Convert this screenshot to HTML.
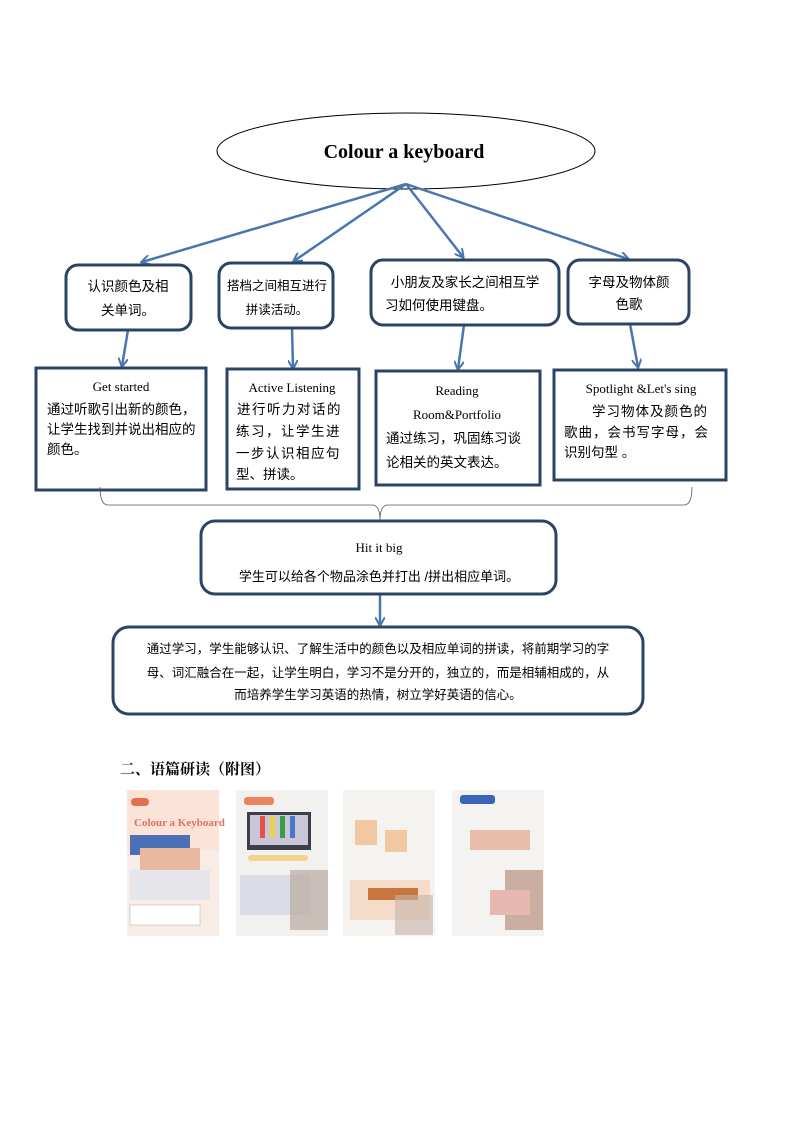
<!DOCTYPE html>
<html><head><meta charset="utf-8"><style>
body{margin:0;background:#fff;width:794px;height:1123px;overflow:hidden}
svg{display:block}
text{font-family:"Liberation Serif","Noto Sans CJK SC",serif;fill:#000}
.c{font-family:"Liberation Sans","Noto Sans CJK SC",sans-serif;font-size:13.5px}
</style></head><body>
<svg width="794" height="1123" viewBox="0 0 794 1123">
<defs><marker id="a" markerWidth="10" markerHeight="10" refX="8" refY="5" orient="auto" markerUnits="userSpaceOnUse"><path d="M0,0 L9,5 L0,10" fill="none" stroke="#4a76b0" stroke-width="2"/></marker></defs>
<ellipse cx="406" cy="151" rx="189" ry="38" fill="#fff" stroke="#000" stroke-width="1"/>
<text x="404" y="158" font-size="20" font-weight="bold" text-anchor="middle">Colour  a keyboard</text>
<g stroke="#4a76b0" stroke-width="2.5" fill="none" marker-end="url(#a)">
<line x1="406" y1="184" x2="142" y2="262"/>
<line x1="406" y1="184" x2="294" y2="261"/>
<line x1="406" y1="184" x2="463" y2="257"/>
<line x1="406" y1="184" x2="628" y2="259"/>
<line x1="128" y1="330" x2="122" y2="366"/>
<line x1="292" y1="328" x2="293" y2="368"/>
<line x1="464" y1="325" x2="458" y2="369"/>
<line x1="630" y1="324" x2="638" y2="367"/>
<line x1="380" y1="594" x2="380" y2="625"/>
</g>
<g stroke="#2b4466" stroke-width="3" fill="#fff">
<rect x="66" y="265" width="125" height="65" rx="12"/>
<rect x="219" y="263" width="114" height="65" rx="12"/>
<rect x="371" y="260" width="188" height="65" rx="12"/>
<rect x="568" y="260" width="121" height="64" rx="12"/>
<rect x="36" y="368" width="170" height="122"/>
<rect x="227" y="369" width="132" height="120"/>
<rect x="376" y="371" width="164" height="114"/>
<rect x="554" y="370" width="172" height="110"/>
<rect x="201" y="521" width="355" height="73" rx="14"/>
<rect x="113" y="627" width="530" height="87" rx="16"/>
</g>
<path d="M100,487 Q100,505 108,505 L372,505 Q380,505 380,520 Q380,505 388,505 L684,505 Q692,505 692,487" fill="none" stroke="#555" stroke-width="0.8"/>
<text x="128" y="291" text-anchor="middle" class="c">认识颜色及相</text>
<text x="128" y="315" text-anchor="middle" class="c">关单词。</text>
<text x="277" y="290" text-anchor="middle" class="c" style="font-size:12.5px">搭档之间相互进行</text>
<text x="277" y="314" text-anchor="middle" class="c" style="font-size:12.5px">拼读活动。</text>
<text x="465" y="287" text-anchor="middle" class="c">小朋友及家长之间相互学</text>
<text x="385" y="310" class="c">习如何使用键盘。</text>
<text x="629" y="287" text-anchor="middle" class="c">字母及物体颜</text>
<text x="629" y="309" text-anchor="middle" class="c">色歌</text>
<text x="121" y="391" font-size="13" text-anchor="middle">Get started</text>
<text x="47" y="414" class="c">通过听歌引出新的颜色，</text>
<text x="47" y="434" class="c">让学生找到并说出相应的</text>
<text x="47" y="454" class="c">颜色。</text>
<text x="292" y="392" font-size="13" text-anchor="middle">Active Listening</text>
<text x="237" y="414" class="c" letter-spacing="1.5"> 进行听力对话的</text>
<text x="236" y="436" class="c" letter-spacing="1.5">练习，让学生进</text>
<text x="236" y="458" class="c" letter-spacing="1.5">一步认识相应句</text>
<text x="236" y="479" class="c">型、拼读。</text>
<text x="457" y="395" font-size="13" text-anchor="middle">Reading</text>
<text x="457" y="419" font-size="13" text-anchor="middle">Room&amp;Portfolio</text>
<text x="386" y="443" class="c">通过练习，巩固练习谈</text>
<text x="386" y="467" class="c">论相关的英文表达。</text>
<text x="641" y="393" font-size="13" text-anchor="middle">Spotlight  &amp;Let's sing</text>
<text x="592" y="416" class="c" letter-spacing="1">学习物体及颜色的</text>
<text x="564" y="437" class="c" letter-spacing="1">歌曲，会书写字母，会</text>
<text x="564" y="457" class="c">识别句型 。</text>
<text x="379" y="552" font-size="13" text-anchor="middle">Hit it big</text>
<text x="379" y="581" text-anchor="middle" class="c" style="font-size:13px">学生可以给各个物品涂色并打出 /拼出相应单词。</text>
<text x="378" y="653" text-anchor="middle" class="c" style="font-size:12.5px">通过学习，学生能够认识、了解生活中的颜色以及相应单词的拼读，将前期学习的字</text>
<text x="378" y="677" text-anchor="middle" class="c" style="font-size:12.5px">母、词汇融合在一起，让学生明白，学习不是分开的，独立的，而是相辅相成的，从</text>
<text x="378" y="699" text-anchor="middle" class="c" style="font-size:12.5px">而培养学生学习英语的热情，树立学好英语的信心。</text>
<text x="120" y="774" font-size="15" font-weight="bold" style="font-family:'Noto Serif CJK SC',serif">二、语篇研读（附图）</text>
<g>
<rect x="127" y="790" width="92" height="146" fill="#f7ece6"/>
<rect x="127" y="790" width="92" height="60" fill="#fbe3d8"/>
<rect x="131" y="798" width="18" height="8" rx="4" fill="#e07050"/>
<text x="134" y="826" font-size="11" font-weight="bold" style="fill:#e07060">Colour a Keyboard</text>
<rect x="130" y="835" width="60" height="20" fill="#4b70b8"/>
<rect x="140" y="848" width="60" height="25" fill="#e8b8a0"/>
<rect x="130" y="870" width="80" height="30" fill="#e6e6ea"/>
<rect x="130" y="905" width="70" height="20" fill="#fff" stroke="#aaa" stroke-width="0.5"/>
<rect x="236" y="790" width="92" height="146" fill="#f3f1f0"/>
<rect x="244" y="797" width="30" height="8" rx="3" fill="#e9845e"/>
<rect x="247" y="812" width="64" height="38" fill="#3b3f4a"/>
<rect x="250" y="815" width="58" height="30" fill="#c9c6d8"/>
<rect x="260" y="816" width="5" height="22" fill="#e2524a"/><rect x="270" y="816" width="5" height="22" fill="#e8d050"/><rect x="280" y="816" width="5" height="22" fill="#3c9a4c"/><rect x="290" y="816" width="5" height="22" fill="#4a78c8"/>
<rect x="248" y="855" width="60" height="6" rx="3" fill="#f4d48a"/>
<rect x="240" y="875" width="70" height="40" fill="#dcdce6"/>
<rect x="290" y="870" width="38" height="60" fill="#b8aaa0" opacity=".7"/>
<rect x="343" y="790" width="92" height="146" fill="#f5f3f0"/>
<rect x="355" y="820" width="22" height="25" fill="#f2c8a2"/><rect x="385" y="830" width="22" height="22" fill="#f2c8a2"/>
<rect x="350" y="880" width="80" height="40" fill="#f4dcc8"/>
<rect x="368" y="888" width="50" height="12" fill="#c87640"/>
<rect x="395" y="895" width="38" height="40" fill="#c6b3a6" opacity=".6"/>
<rect x="452" y="790" width="92" height="146" fill="#f5f3f2"/>
<rect x="460" y="795" width="35" height="9" rx="3" fill="#3a64b8"/>
<rect x="470" y="830" width="60" height="20" fill="#e2a58e" opacity=".7"/>
<rect x="505" y="870" width="38" height="60" fill="#b89080" opacity=".7"/>
<rect x="490" y="890" width="40" height="25" fill="#e6b8b0"/>
</g>
</svg>
</body></html>
